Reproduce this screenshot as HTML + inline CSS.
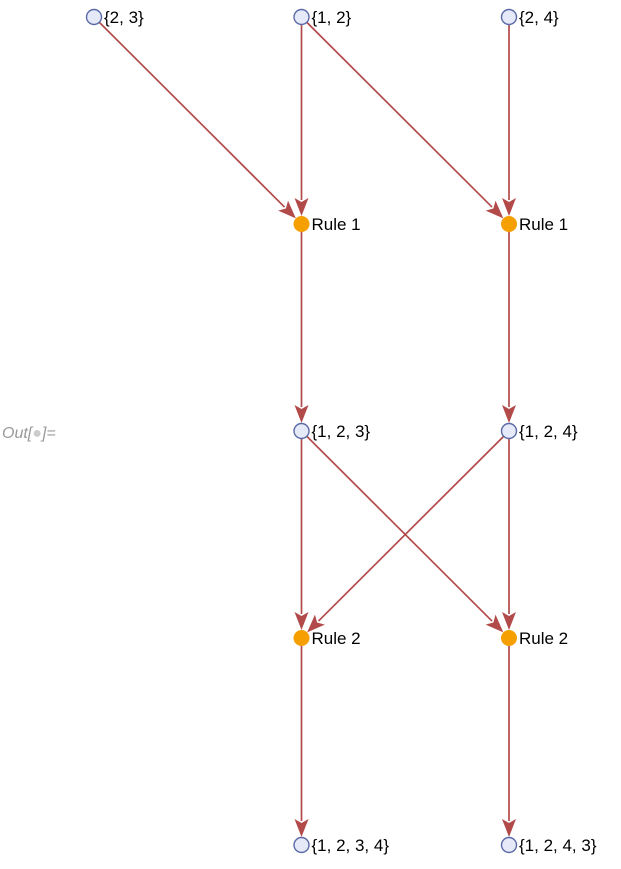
<!DOCTYPE html>
<html><head><meta charset="utf-8"><style>
body{margin:0;background:#fff;width:621px;height:864px;overflow:hidden;font-family:"Liberation Sans",sans-serif}
</style></head><body>
<svg id="g" width="621" height="864">
<text x="2" y="438" font-size="16" font-style="italic" fill="#999">Out[<tspan fill="#ccc">●</tspan>]=</text>
</svg>
<script>
const nodeLabels=["{2, 3}","{1, 2}","{2, 4}","Rule 1","Rule 1","{1, 2, 3}","{1, 2, 4}","Rule 2","Rule 2","{1, 2, 3, 4}","{1, 2, 4, 3}"];
const nodeCol=[0,1,2,1,2,1,2,1,2,1,2];
const nodeRow=[0,0,0,1,1,2,2,3,3,4,4];
const nodeKind=["s","s","s","r","r","s","s","r","r","s","s"];
const edgeFrom=[0,1,1,2,3,4,5,5,6,6,7,8];
const edgeTo=[3,3,4,4,5,6,7,8,7,8,9,10];
const xs=c=>94+c*207.5, ys=r=>17+r*207;
const svg=document.getElementById('g'),NS="http://www.w3.org/2000/svg";
function mk(t,a){const e=document.createElementNS(NS,t);for(const k in a)e.setAttribute(k,a[k]);svg.appendChild(e);return e;}
edgeFrom.forEach((f,i)=>{
 const t=edgeTo[i],x1=xs(nodeCol[f]),y1=ys(nodeRow[f]),x2=xs(nodeCol[t]),y2=ys(nodeRow[t]);
 const dx=x2-x1,dy=y2-y1,L=Math.hypot(dx,dy),ux=dx/L,uy=dy/L;
 const ex=x2-ux*8,ey=y2-uy*8,bx=ex-ux*18,by=ey-uy*18,px=-uy*7,py=ux*7;
 const l=mk('line',{x1:x1,y1:y1,x2:bx+ux*2,y2:by+uy*2,stroke:'#b24a4a','stroke-width':1.7});
 
 
 const p=mk('polygon',{points:`${ex},${ey} ${bx+px},${by+py} ${bx+ux*4},${by+uy*4} ${bx-px},${by-py}`,fill:'#b24a4a'});
 
 
});
nodeLabels.forEach((lab,i)=>{
 const x=xs(nodeCol[i]),y=ys(nodeRow[i]),r=nodeKind[i]=='r';
 const c=mk('circle',{cx:x,cy:y,r:r?8:7.5,fill:r?'#f5a000':'#e6e9f7',stroke:r?'#f5a000':'#5a6aa8','stroke-width':r?0:1.4});
 
 
 const t=mk('text',{x:x+10,y:y+6,'font-size':17,fill:'#000'});t.textContent=lab;
 
 
});
</script>
</body></html>
